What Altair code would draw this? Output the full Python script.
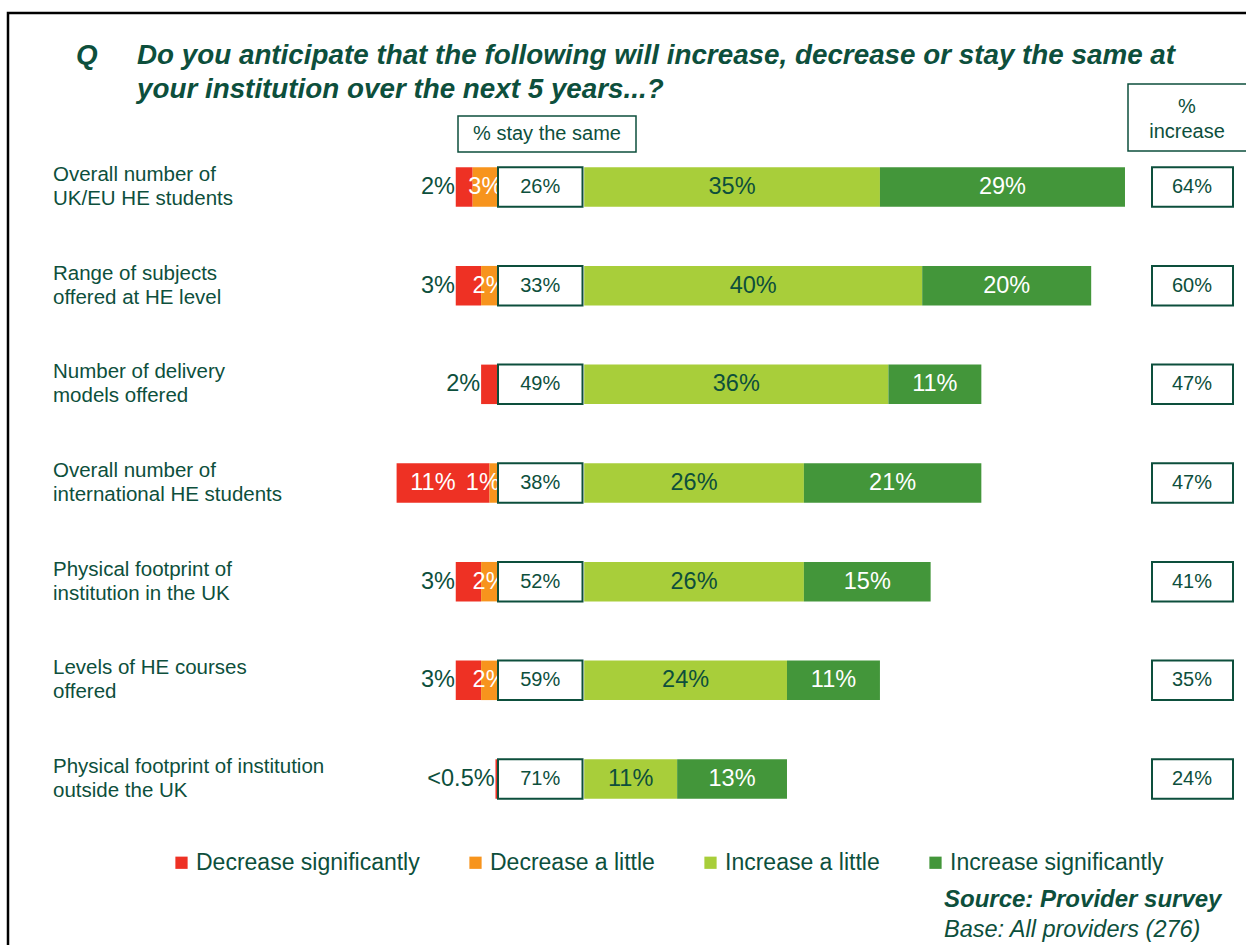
import altair as alt
import pandas as pd

# ---------------- data ----------------
categories = [
    "Overall number of\nUK/EU HE students",
    "Range of subjects\noffered at HE level",
    "Number of delivery\nmodels offered",
    "Overall number of\ninternational HE students",
    "Physical footprint of\ninstitution in the UK",
    "Levels of HE courses\noffered",
    "Physical footprint of institution\noutside the UK",
]
dec_sig = [2, 3, 2, 11, 3, 3, 0.3]
dec_sig_text = ["2%", "3%", "2%", "11%", "3%", "3%", "<0.5%"]
dec_little = [3, 2, 0, 1, 2, 2, 0]
stay_same = [26, 33, 49, 38, 52, 59, 71]
inc_little = [35, 40, 36, 26, 26, 24, 11]
inc_sig = [29, 20, 11, 21, 15, 11, 13]
total_inc = [64, 60, 47, 47, 41, 35, 24]
series = ["Decrease significantly", "Decrease a little", "Increase a little", "Increase significantly"]
colors = ["#EE3124", "#F7941D", "#A8CE3A", "#43963A"]

TXT = "#0D4F3C"
FONT = "Liberation Sans"
BOX_W = 10.0      # width of the "stay the same" box in scale units
GAP = 0.2
HALF = 0.2

# ---------------- tables ----------------
bars, labels = [], []
for i, cat in enumerate(categories):
    ds, dl, il, isg = dec_sig[i], dec_little[i], inc_little[i], inc_sig[i]
    segs = [
        (series[0], -(ds + dl), -dl),
        (series[1], -dl, 0),
        (series[2], BOX_W + GAP, BOX_W + GAP + il),
        (series[3], BOX_W + GAP + il, BOX_W + GAP + il + isg),
    ]
    for s, a, b in segs:
        if b - a > 0:
            bars.append({"idx": i, "series": s, "x": a, "x2": b})
    if ds >= 5:
        labels.append({"idx": i, "x": -(ds + dl) / 2 - dl / 2 - 1.2, "t": dec_sig_text[i], "c": "white", "al": "center"})
    else:
        labels.append({"idx": i, "x": -(ds + dl) - 0.1, "t": dec_sig_text[i], "c": TXT, "al": "right"})
    if dl > 0:
        labels.append({"idx": i, "x": -dl / 2 - (1.3 if ds >= 5 else 0), "t": f"{dl}%", "c": "white", "al": "center"})
    labels.append({"idx": i, "x": BOX_W + GAP + il / 2, "t": f"{il}%", "c": TXT, "al": "center"})
    labels.append({"idx": i, "x": BOX_W + GAP + il + isg / 2, "t": f"{isg}%", "c": "white", "al": "center"})

bars_df = pd.DataFrame(bars)
bars_df["y"] = bars_df["idx"] - HALF
bars_df["y2"] = bars_df["idx"] + HALF
lab_df = pd.DataFrame(labels)
rows_df = pd.DataFrame({
    "idx": list(range(len(categories))),
    "cat": categories,
    "same": [f"{v}%" for v in stay_same],
    "tot": [f"{v}%" for v in total_inc],
})
rows_df["y"] = rows_df["idx"] - HALF
rows_df["y2"] = rows_df["idx"] + HALF
rows_df["zero"] = 0.0
rows_df["bw"] = BOX_W
rows_df["mid"] = BOX_W / 2

# ---------------- scales ----------------
PX_PER = 8.45
X0 = 498
xs = alt.Scale(domain=[-X0 / PX_PER, (1246 - X0) / PX_PER], nice=False, zero=False)
ROW0, STEP = 187, 98.67
ys = alt.Scale(domain=[-ROW0 / STEP, (945 - ROW0) / STEP], nice=False, zero=False, reverse=True)
X = lambda f: alt.X(f, type="quantitative", scale=xs, axis=None)
Y = lambda f: alt.Y(f, type="quantitative", scale=ys, axis=None)

bar_layer = alt.Chart(bars_df).mark_rect().encode(
    x=X("x"), x2="x2", y=Y("y"), y2="y2",
    color=alt.Color("series:N", scale=alt.Scale(domain=series, range=colors),
                    legend=alt.Legend(title=None, orient="none", legendX=170, legendY=851,
                                      direction="horizontal", columns=4, symbolType="square",
                                      symbolSize=150, labelFontSize=23, labelFont=FONT,
                                      labelColor=TXT, columnPadding=44, symbolOffset=0,
                                      labelOffset=3, symbolStrokeWidth=0, labelLimit=0)),
)

lab_center = alt.Chart(lab_df).transform_filter("datum.al == 'center'").mark_text(
    font=FONT, fontSize=23.5, baseline="middle", align="center").encode(
    x=X("x"), y=Y("idx"), text="t:N", color=alt.Color("c:N", scale=None))
lab_right = alt.Chart(lab_df).transform_filter("datum.al == 'right'").mark_text(
    font=FONT, fontSize=23.5, baseline="middle", align="right").encode(
    x=X("x"), y=Y("idx"), text="t:N", color=alt.Color("c:N", scale=None))

box_layer = alt.Chart(rows_df).mark_rect(fill="white", stroke=TXT, strokeWidth=2).encode(
    x=X("zero"), x2="bw", y=Y("y"), y2="y2")
box_text = alt.Chart(rows_df).mark_text(font=FONT, fontSize=20, color=TXT, baseline="middle").encode(
    x=X("mid"), y=Y("idx"), text="same:N")

tot_box = alt.Chart(rows_df).mark_rect(fill="white", stroke=TXT, strokeWidth=2).encode(
    x=alt.value(1152), x2=alt.value(1233), y=Y("y"), y2="y2")
tot_text = alt.Chart(rows_df).mark_text(font=FONT, fontSize=20, color=TXT, baseline="middle").encode(
    x=alt.value(1192), y=Y("idx"), text="tot:N")

cat_text = alt.Chart(rows_df).mark_text(font=FONT, fontSize=20.5, color=TXT, baseline="middle",
                                        align="left", lineBreak="\n", lineHeight=24, dy=-12).encode(
    x=alt.value(53), y=Y("idx"), text="cat:N")

one = pd.DataFrame({"k": [0]})
frame = alt.Chart(one).mark_rect(fill=None, stroke="black", strokeWidth=2.5).encode(
    x=alt.value(8), x2=alt.value(1260), y=alt.value(13), y2=alt.value(1000))

hdr_same_box = alt.Chart(one).mark_rect(fill="white", stroke=TXT, strokeWidth=1.5).encode(
    x=alt.value(458), x2=alt.value(636), y=alt.value(116), y2=alt.value(152))
hdr_same_txt = alt.Chart(one).mark_text(font=FONT, fontSize=20, color=TXT, baseline="middle").encode(
    x=alt.value(547), y=alt.value(134), text=alt.value("% stay the same"))
hdr_inc_box = alt.Chart(one).mark_rect(fill="white", stroke=TXT, strokeWidth=1.5).encode(
    x=alt.value(1128), x2=alt.value(1250), y=alt.value(84), y2=alt.value(151))
hdr_inc_txt = alt.Chart(one).mark_text(font=FONT, fontSize=20, color=TXT, baseline="middle",
                                       lineBreak="\n", lineHeight=25).encode(
    x=alt.value(1187), y=alt.value(107), text=alt.value("%\nincrease"))

TFS = 27.8
title_q = alt.Chart(one).mark_text(font=FONT, fontSize=TFS, fontWeight="bold", fontStyle="italic",
                                   color=TXT, align="left", baseline="alphabetic").encode(
    x=alt.value(76), y=alt.value(64), text=alt.value("Q"))
title_t = alt.Chart(one).mark_text(font=FONT, fontSize=TFS, fontWeight="bold", fontStyle="italic",
                                   color=TXT, align="left", baseline="alphabetic",
                                   lineBreak="\n", lineHeight=34).encode(
    x=alt.value(137), y=alt.value(64),
    text=alt.value("Do you anticipate that the following will increase, decrease or stay the same at\nyour institution over the next 5 years...?"))

src1 = alt.Chart(one).mark_text(font=FONT, fontSize=24, fontWeight="bold", fontStyle="italic",
                                color=TXT, align="left", baseline="alphabetic").encode(
    x=alt.value(944), y=alt.value(907), text=alt.value("Source: Provider survey"))
src2 = alt.Chart(one).mark_text(font=FONT, fontSize=23.5, fontStyle="italic",
                                color=TXT, align="left", baseline="alphabetic").encode(
    x=alt.value(944), y=alt.value(937), text=alt.value("Base: All providers (276)"))

chart = alt.layer(
    frame, bar_layer, lab_center, lab_right, box_layer, box_text, tot_box, tot_text, cat_text,
    hdr_same_box, hdr_same_txt, hdr_inc_box, hdr_inc_txt, title_q, title_t, src1, src2,
).properties(
    width=1246, height=945, autosize=alt.AutoSizeParams(type="none"), padding=0,
    background="white",
).configure_view(stroke=None)

chart.save("out.html", embed_options={"renderer": "svg", "actions": False})
